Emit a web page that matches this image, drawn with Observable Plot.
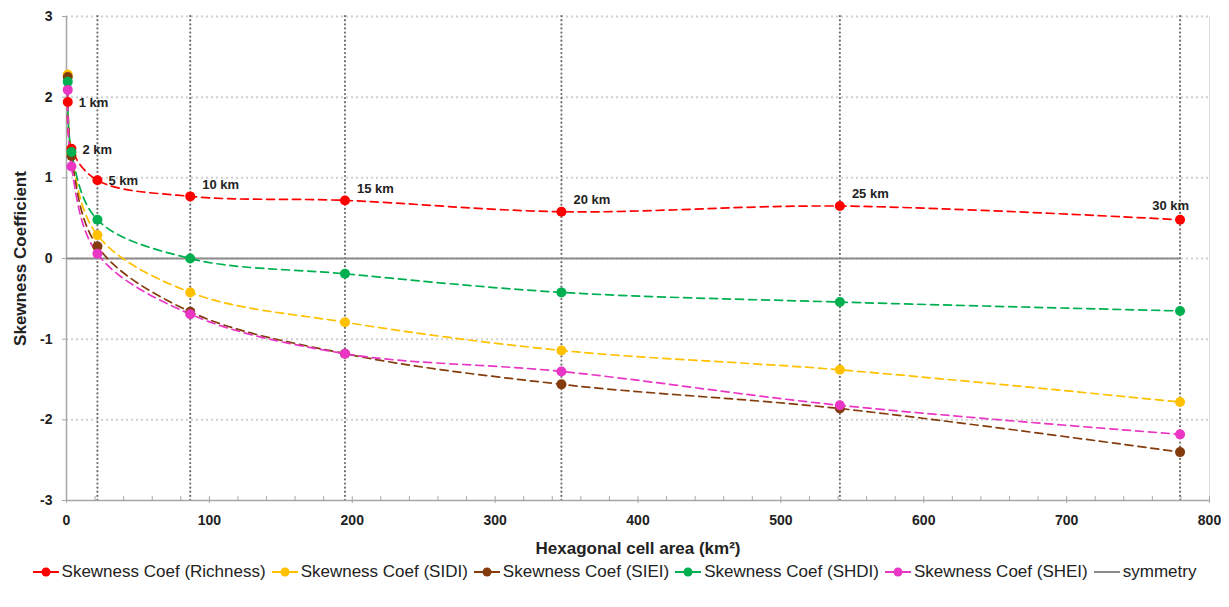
<!DOCTYPE html>
<html><head><meta charset="utf-8">
<script src="https://cdn.jsdelivr.net/npm/d3@7"></script>
<script src="https://cdn.jsdelivr.net/npm/@observablehq/plot@0.6"></script>
<style>
body{margin:0;background:#fff;font-family:"Liberation Sans",Arial,sans-serif;}
#chart{width:1229px;}
.legend{display:flex;justify-content:center;align-items:center;margin-top:2px;font-size:17px;color:#222;gap:6px;height:20px}
.item{display:flex;align-items:center;gap:3px;white-space:nowrap}
</style></head><body><div id="chart"></div><div class="legend" id="legend"></div><script>
const kmLabels = ["1 km","2 km","5 km","10 km","15 km","20 km","25 km","30 km"];
const cellArea = [0.87, 3.46, 21.65, 86.6, 194.9, 346.4, 541.3, 779.4];
const richness = [1.94, 1.36, 0.97, 0.77, 0.72, 0.58, 0.65, 0.48];
const sidi     = [2.28, 1.30, 0.29, -0.42, -0.79, -1.14, -1.38, -1.78];
const siei     = [2.25, 1.27, 0.15, -0.66, -1.18, -1.56, -1.86, -2.40];
const shdi     = [2.19, 1.32, 0.48, 0.00, -0.19, -0.42, -0.54, -0.65];
const shei     = [2.09, 1.14, 0.06, -0.69, -1.18, -1.40, -1.82, -2.18];
const seriesNames = ["Skewness Coef (Richness)","Skewness Coef (SIDI)","Skewness Coef (SIEI)","Skewness Coef (SHDI)","Skewness Coef (SHEI)"];
const seriesColors = ["#FF0000","#FFC000","#843C0C","#00B050","#E936C4"];
const symmetryName = "symmetry";
const symmetryColor = "#8c8c8c";
const xTicks = [0,100,200,300,400,500,600,700,800];
const xMinorTicks = d3.range(0, 801, 20);
const yTicks = [-3,-2,-1,0,1,2,3];

const seriesValues = [richness, sidi, siei, shdi, shei];
const data = seriesNames.flatMap((s,i)=> cellArea.map((x,j)=>({series:s, x, y: seriesValues[i][j]})));
const symmetry = [cellArea[0], cellArea[cellArea.length-1]].map(x=>({x, y:0}));
const labels = cellArea.map((x,j)=>({x, y: richness[j], label: kmLabels[j]}));
const font = '"Liberation Sans",Arial,sans-serif';
const tickShape = {draw(context, l){ context.moveTo(0,0); context.lineTo(0,-l); }};

const chart = Plot.plot({
  width:1229, height:560, marginTop:16, marginBottom:60, marginLeft:66, marginRight:20,
  style:{fontFamily:font, fontWeight:"bold", fontSize:"14px", color:"#222", background:"white"},
  x:{domain:[0,800]}, y:{domain:[-3,3]},
  color:{domain:seriesNames, range:seriesColors},
  marks:[
    Plot.gridY(yTicks.filter(d=>d>-3), {stroke:"#cfcfcf", strokeOpacity:1, strokeWidth:2, strokeDasharray:"2,3"}),
    Plot.ruleX(cellArea.slice(2), {y1:-3, y2:3, stroke:"#707070", strokeWidth:2.2, strokeDasharray:"0.1,4", strokeLinecap:"round"}),
    Plot.ruleX([800], {y1:-3, y2:3, stroke:"#dcdcdc"}),
    Plot.ruleY([-3], {stroke:"#a6a6a6", strokeWidth:1.5}),
    Plot.ruleX([0], {y1:-3, y2:3, stroke:"#a6a6a6", strokeWidth:1.5}),
    Plot.vector(xMinorTicks, {x:d=>d, y:-3, length:4, rotate:0, anchor:"start", shape:tickShape, stroke:"#a6a6a6", strokeWidth:1}),
    Plot.line(symmetry, {x:"x", y:"y", stroke:symmetryColor, strokeWidth:2}),
    Plot.line(data, {x:"x", y:"y", z:"series", stroke:"series", strokeWidth:1.7, strokeDasharray:"8,5", curve:"catmull-rom"}),
    Plot.dot(data, {x:"x", y:"y", fill:"series", r:5}),
    Plot.axisX({ticks:xTicks, tickSize:3, tickPadding:12, stroke:"#a6a6a6", label:null, fontSize:14}),
    Plot.axisX({ticks:[], tickSize:0, label:"Hexagonal cell area (km²)", labelAnchor:"center", labelArrow:"none", labelOffset:53, fontSize:17}),
    Plot.axisY({ticks:yTicks, tickFormat:d=>String(d), tickSize:4, tickPadding:10, stroke:"#a6a6a6", label:null, fontSize:14}),
    Plot.axisY({ticks:[], tickSize:0, label:"Skewness Coefficient", labelAnchor:"center", labelArrow:"none", labelOffset:53, fontSize:17}),
    Plot.text(labels.slice(0,3), {x:"x", y:"y", text:"label", textAnchor:"start", dx:11, dy:1, fontSize:13, fontWeight:"bold", fill:"#222"}),
    Plot.text(labels.slice(3,7), {x:"x", y:"y", text:"label", textAnchor:"start", dx:12, dy:-12, fontSize:13, fontWeight:"bold", fill:"#222"}),
    Plot.text(labels.slice(7), {x:"x", y:"y", text:"label", textAnchor:"end", dx:9, dy:-14, fontSize:13, fontWeight:"bold", fill:"#222"})
  ]
});
document.getElementById("chart").append(chart);

const legend = document.getElementById("legend");
const items = seriesNames.map((s,i)=>({name:s, color:seriesColors[i], dot:true})).concat([{name:symmetryName, color:symmetryColor, dot:false}]);
for (const it of items) {
  const el = document.createElement("div"); el.className = "item";
  el.innerHTML = `<svg width="26" height="12"><line x1="0" x2="26" y1="6" y2="6" stroke="${it.color}" stroke-width="2"/>${it.dot ? `<circle cx="13" cy="6" r="4.5" fill="${it.color}"/>` : ""}</svg><span>${it.name}</span>`;
  legend.append(el);
}
</script></body></html>
